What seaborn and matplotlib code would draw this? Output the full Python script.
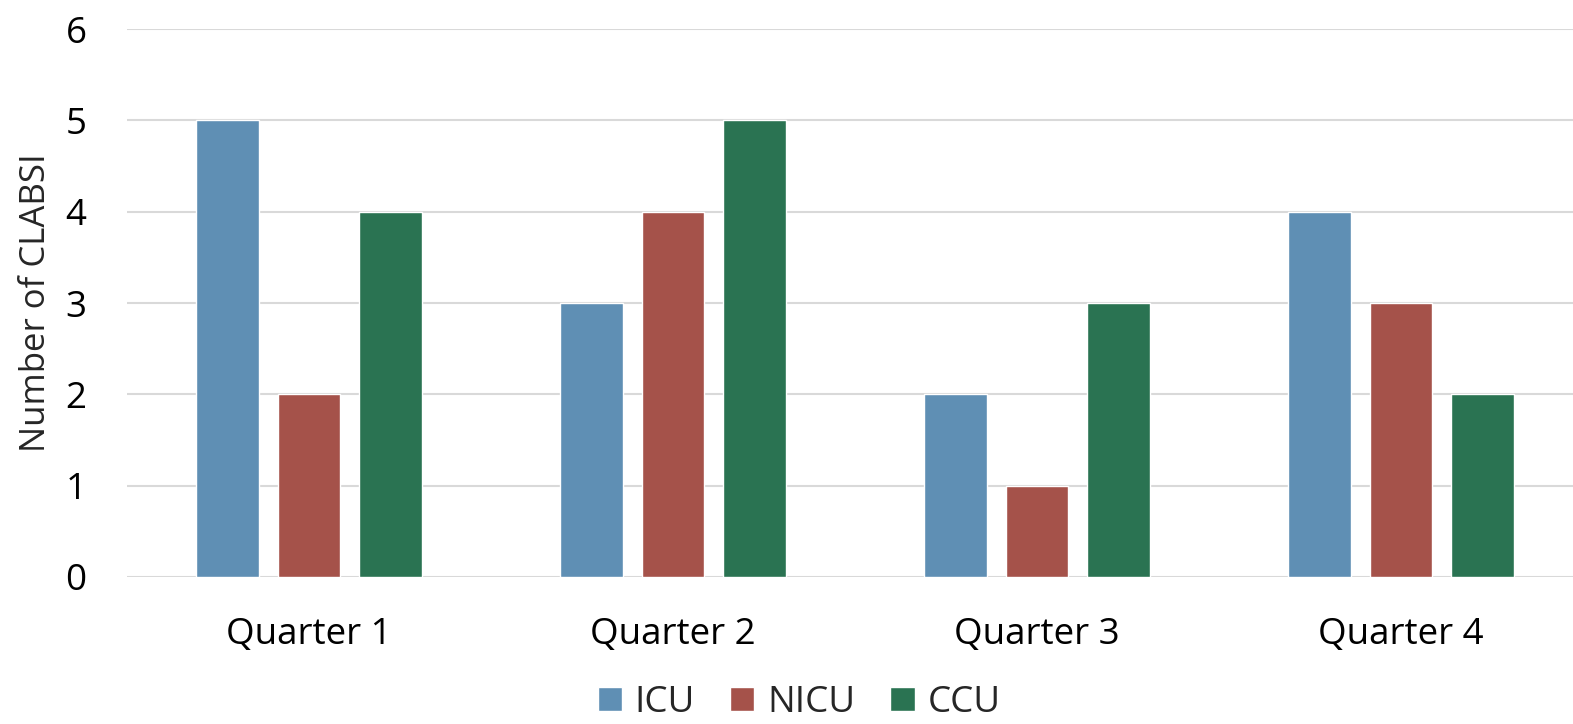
import matplotlib
matplotlib.use("Agg")
import matplotlib.pyplot as plt
import seaborn as sns
import pandas as pd

quarters = ["Quarter 1", "Quarter 2", "Quarter 3", "Quarter 4"]
units = ["ICU", "NICU", "CCU"]
icu = [5, 3, 2, 4]
nicu = [2, 4, 1, 3]
ccu = [4, 5, 3, 2]
y_ticks = [0, 1, 2, 3, 4, 5, 6]

df = pd.DataFrame({
    "Quarter": quarters * 3,
    "Unit": [u for u in units for _ in quarters],
    "Count": icu + nicu + ccu,
})

sns.set_theme(style="white")
plt.rcParams["font.family"] = ["Open Sans", "DejaVu Sans"]
FS = 26.5

palette = {"ICU": "#5F8FB4", "NICU": "#A5524A", "CCU": "#2A7352"}

fig = plt.figure(figsize=(15.73, 7.24), dpi=100)
ax = fig.add_axes([127 / 1573, 1 - 577 / 724, 1 - 127 / 1573, (577 - 29) / 724])

sns.barplot(data=df, x="Quarter", y="Count", hue="Unit", order=quarters,
            hue_order=units, palette=palette, width=0.668, gap=0.223,
            saturation=1, ax=ax, legend=True)

ax.set_ylim(0, 6)
ax.set_xlim(-0.5, -0.5 + (1573 - 127) / 364)
ax.set_yticks(y_ticks)
ax.yaxis.grid(True, color="#D9D9D9", linewidth=1.5)
ax.set_axisbelow(True)
for s in ax.spines.values():
    s.set_visible(False)
ax.tick_params(axis="both", length=0, labelsize=FS, colors="black")
ax.tick_params(axis="y", pad=29)
ax.tick_params(axis="x", pad=29)
ax.set_xlabel("")
ax.set_ylabel("Number of CLABSI", fontsize=25, labelpad=9)

# legend row along the bottom edge of the figure
handles, labels = ax.get_legend_handles_labels()
ax.get_legend().remove()
fig.legend(handles, labels, loc="center", bbox_to_anchor=(0.508, 1 - 703 / 724),
           ncol=3, frameon=False, fontsize=FS, handlelength=0.66,
           handleheight=0.66, handletextpad=0.35, columnspacing=0.95,
           borderpad=0, borderaxespad=0)

fig.savefig("out.png", dpi=100)
